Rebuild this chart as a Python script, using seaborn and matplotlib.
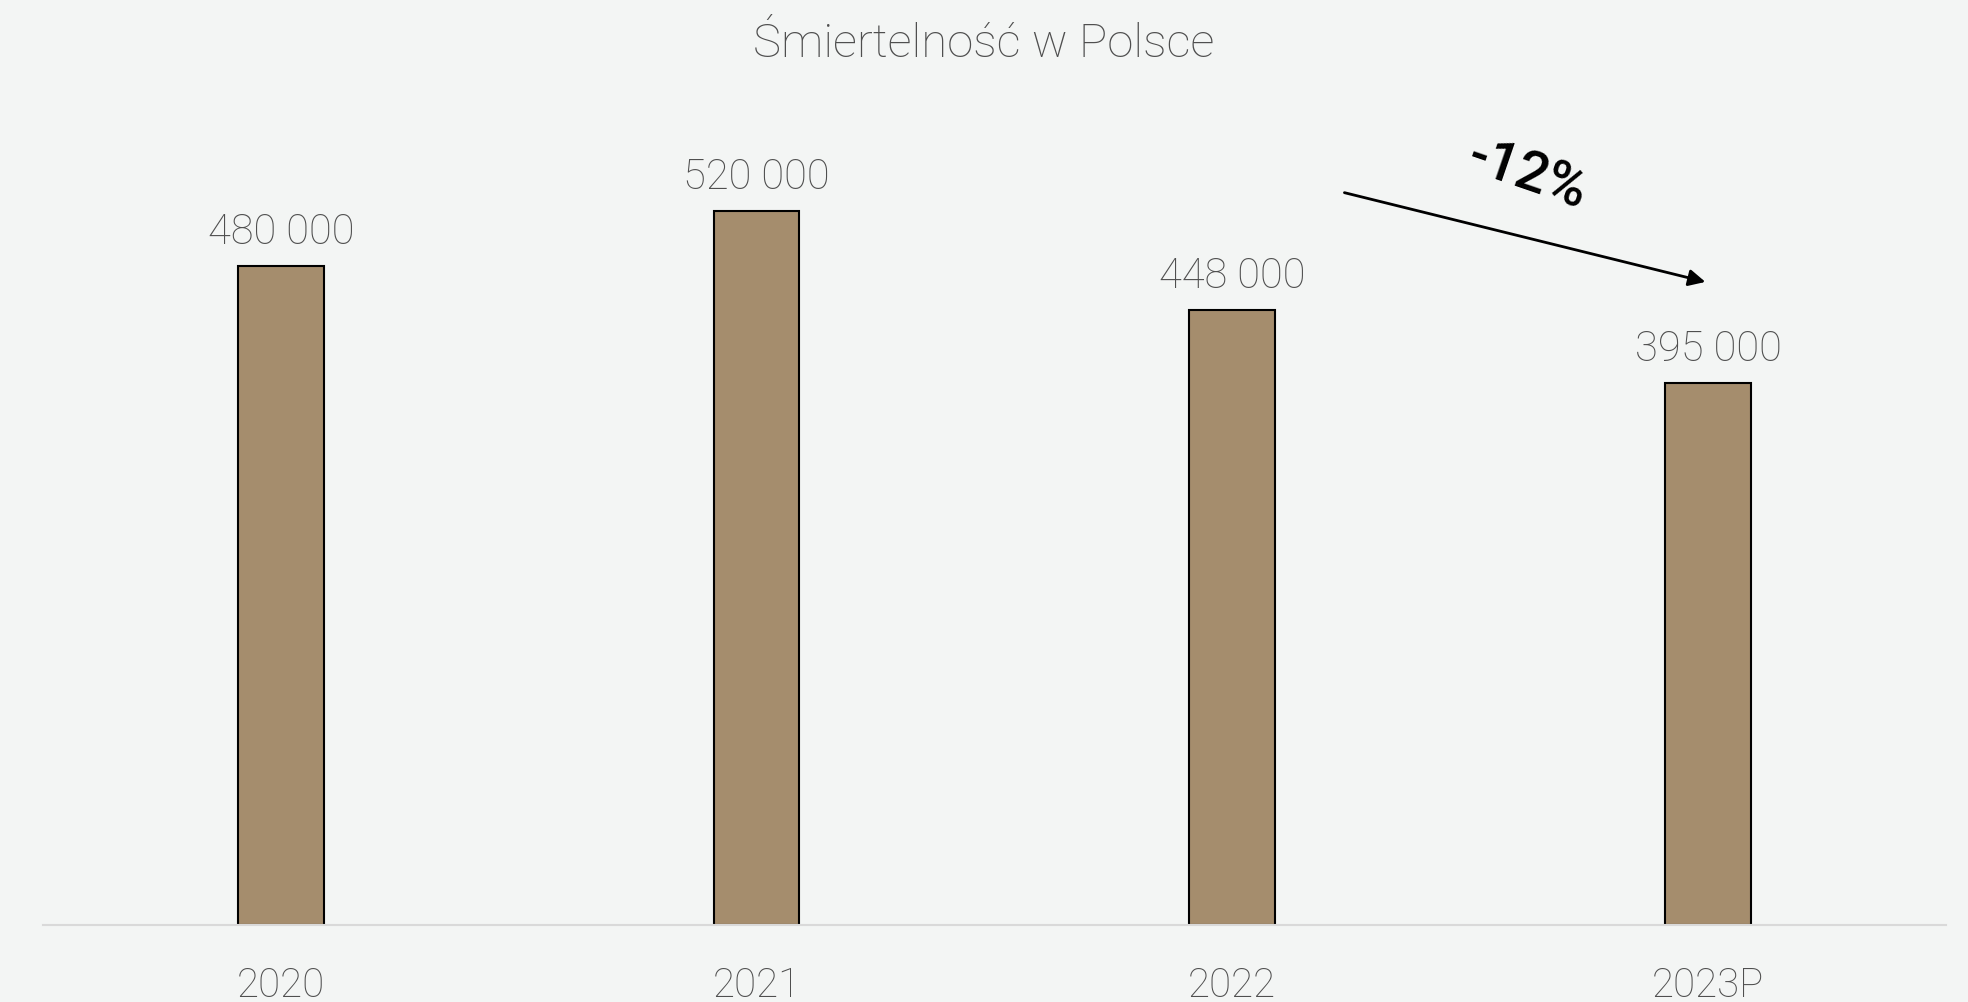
import matplotlib
matplotlib.use('Agg')
import matplotlib.pyplot as plt
import seaborn as sns

# data
years = ['2020', '2021', '2022', '2023P']
deaths = [480000, 520000, 448000, 395000]

bg = '#f3f5f4'
bar_color = '#a58d6d'
text_color = '#4f4f4f'

sns.set_theme(style='white')
plt.rcParams['font.family'] = ['Roboto', 'DejaVu Sans']

fig = plt.figure(figsize=(19.68, 10.03), dpi=100, facecolor=bg)
ax = fig.add_axes([0.0218, 0.0768, 0.9670, 0.8211], facecolor=bg)

sns.barplot(x=years, y=deaths, color=bar_color, saturation=1, width=0.18,
            edgecolor='black', linewidth=1.5, ax=ax)

ax.set_xlim(-0.5, 3.5)
ax.set_ylim(0, 600000)
ax.set_yticks([])
ax.set_xlabel('')
ax.set_ylabel('')
for s in ['left', 'right', 'top']:
    ax.spines[s].set_visible(False)
ax.spines['bottom'].set_color('#d9d9d9')
ax.spines['bottom'].set_linewidth(1.5)
ax.tick_params(axis='x', length=0, pad=29, labelsize=29, labelcolor=text_color)
for lab in ax.get_xticklabels():
    lab.set_fontweight('light')

# value labels
for i, v in enumerate(deaths):
    ax.annotate(f'{v:,}'.replace(',', ' '), (i, v), xytext=(0, 25), textcoords='offset points',
                ha='center', va='center', fontsize=30, color=text_color, fontweight='light')

fig.suptitle('Śmiertelność w Polsce', y=0.978, fontsize=34, color=text_color, fontweight='light')

# change annotation 2022 -> 2023P
change = round((deaths[3] - deaths[2]) / deaths[2] * 100)
ax.annotate('', xy=(3, deaths[3] + 73000), xytext=(2.23, deaths[2] + 86000),
            arrowprops=dict(arrowstyle='-|>', color='black', lw=2, mutation_scale=25))
ax.text(2.62, deaths[2] + 99000, f'-{abs(change)}%', rotation=-19, ha='center', va='center',
        fontsize=40, color='black', fontweight='medium')

fig.savefig('out.png', dpi=100, facecolor=bg)
